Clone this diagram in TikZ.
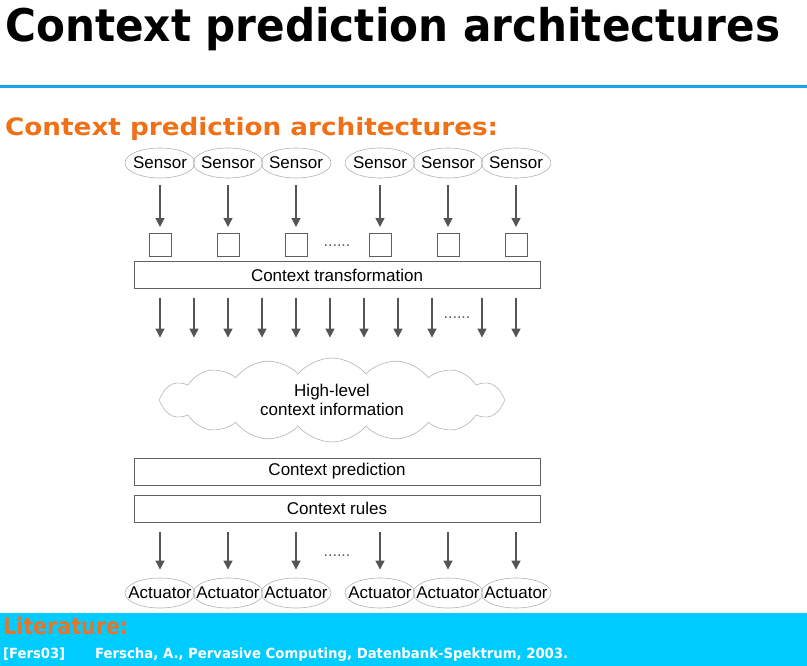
\documentclass[tikz,border=0pt]{standalone}
\usepackage{fontspec}
\usepackage{graphicx}
\setmainfont{Liberation Sans}
\newfontfamily\slidefont{DejaVu Sans}
\usetikzlibrary{shapes.geometric, shapes.symbols, arrows.meta, positioning}
\definecolor{slideblue}{HTML}{1AA3EE}
\definecolor{slideorange}{HTML}{F07018}
\definecolor{footcyan}{HTML}{00CCFF}
\definecolor{litorange}{HTML}{E8742A}
\definecolor{arrgray}{HTML}{555555}
\newcommand{\devlabel}[1]{\makebox[0pt]{#1}}
\tikzset{
  device/.style={ellipse, draw=gray!60, line width=0.6pt, minimum width=70pt, minimum height=30pt, inner sep=0pt, font=\fontsize{17}{17}\selectfont},
  slot/.style={rectangle, draw=gray!75!black, line width=0.7pt, minimum width=22pt, minimum height=23pt},
  layer/.style={rectangle, draw=gray!75!black, line width=0.7pt, minimum width=406pt, minimum height=27pt, font=\fontsize{17}{17}\selectfont},
  arr/.style={-{Triangle[length=9pt,width=8.5pt]}, line width=2.8pt, arrgray},
  dots/.style={font=\fontsize{16}{16}\selectfont, text=gray!70!black, inner sep=0pt},
  heading/.style={anchor=base west, inner sep=0pt},
}

\begin{document}
\begin{tikzpicture}[x=1pt, y=-1pt]
\useasboundingbox (0,0) rectangle (807,666);
% slide header
\node[heading] (title) at (5,42) {\resizebox{775pt}{\height}{\slidefont\bfseries\fontsize{45}{45}\selectfont Context prediction architectures}};
\draw[slideblue, line width=3pt] (0,86.5) -- (807,86.5);
\node[heading, text=slideorange] (subtitle) at (5,136) {\resizebox{493pt}{\height}{\slidefont\bfseries\fontsize{24}{24}\selectfont Context prediction architectures:}};

% sensors and their slots
\foreach \x [count=\i] in {160,228,296,380,448,516} {
  \node[device] (s\i) at (\x,163) {\devlabel{Sensor}};
  \node[slot] (q\i) at (\x,245) {};
  \draw[arr, shorten <=7pt, shorten >=6pt] (s\i) -- (q\i);
}
\node[dots] (gap1) at (337,246) {......};

% layers
\node[layer] (trans) at (337,275) {Context transformation};
\node[cloud, cloud puffs=16, cloud puff arc=100, aspect=4, draw=gray!60, line width=0.6pt,
  minimum width=345pt, minimum height=84pt, align=center, font=\fontsize{17}{19}\selectfont] (info) at (332,400) {High-level\\context information};
\node[layer] (pred) at (337,471.5) {Context prediction};
\node[layer] (rules) at (337,508.5) {Context rules};

\foreach \x in {160,194,228,262,296,330,364,398,432,482,516}
  \draw[arr, shorten <=9pt] (trans.south -| \x,0) -- ([yshift=20pt]info.north -| \x,0);
\node[dots] (gap2) at (457,318) {......};

% actuators
\foreach \x [count=\i] in {160,228,296,380,448,516} {
  \node[device] (a\i) at (\x,593) {\devlabel{Actuator}};
  \draw[arr, shorten <=10pt, shorten >=8pt] (rules.south -| a\i) -- (a\i);
}
\node[dots] (gap3) at (337,556) {......};

% literature footer
\fill[footcyan] (0,613) rectangle (807,666);
\node[heading, text=litorange] (lit) at (3,634) {\resizebox{125pt}{\height}{\slidefont\bfseries\fontsize{23}{23}\selectfont Literature:}};
\node[heading, text=white] (refkey) at (3,658) {\resizebox{62pt}{\height}{\slidefont\bfseries\fontsize{14}{14}\selectfont [Fers03]}};
\node[heading, text=white] (reftext) at (95,658) {\resizebox{473pt}{\height}{\slidefont\bfseries\fontsize{14}{14}\selectfont Ferscha, A., Pervasive Computing, Datenbank-Spektrum, 2003.}};
\end{tikzpicture}
\end{document}
